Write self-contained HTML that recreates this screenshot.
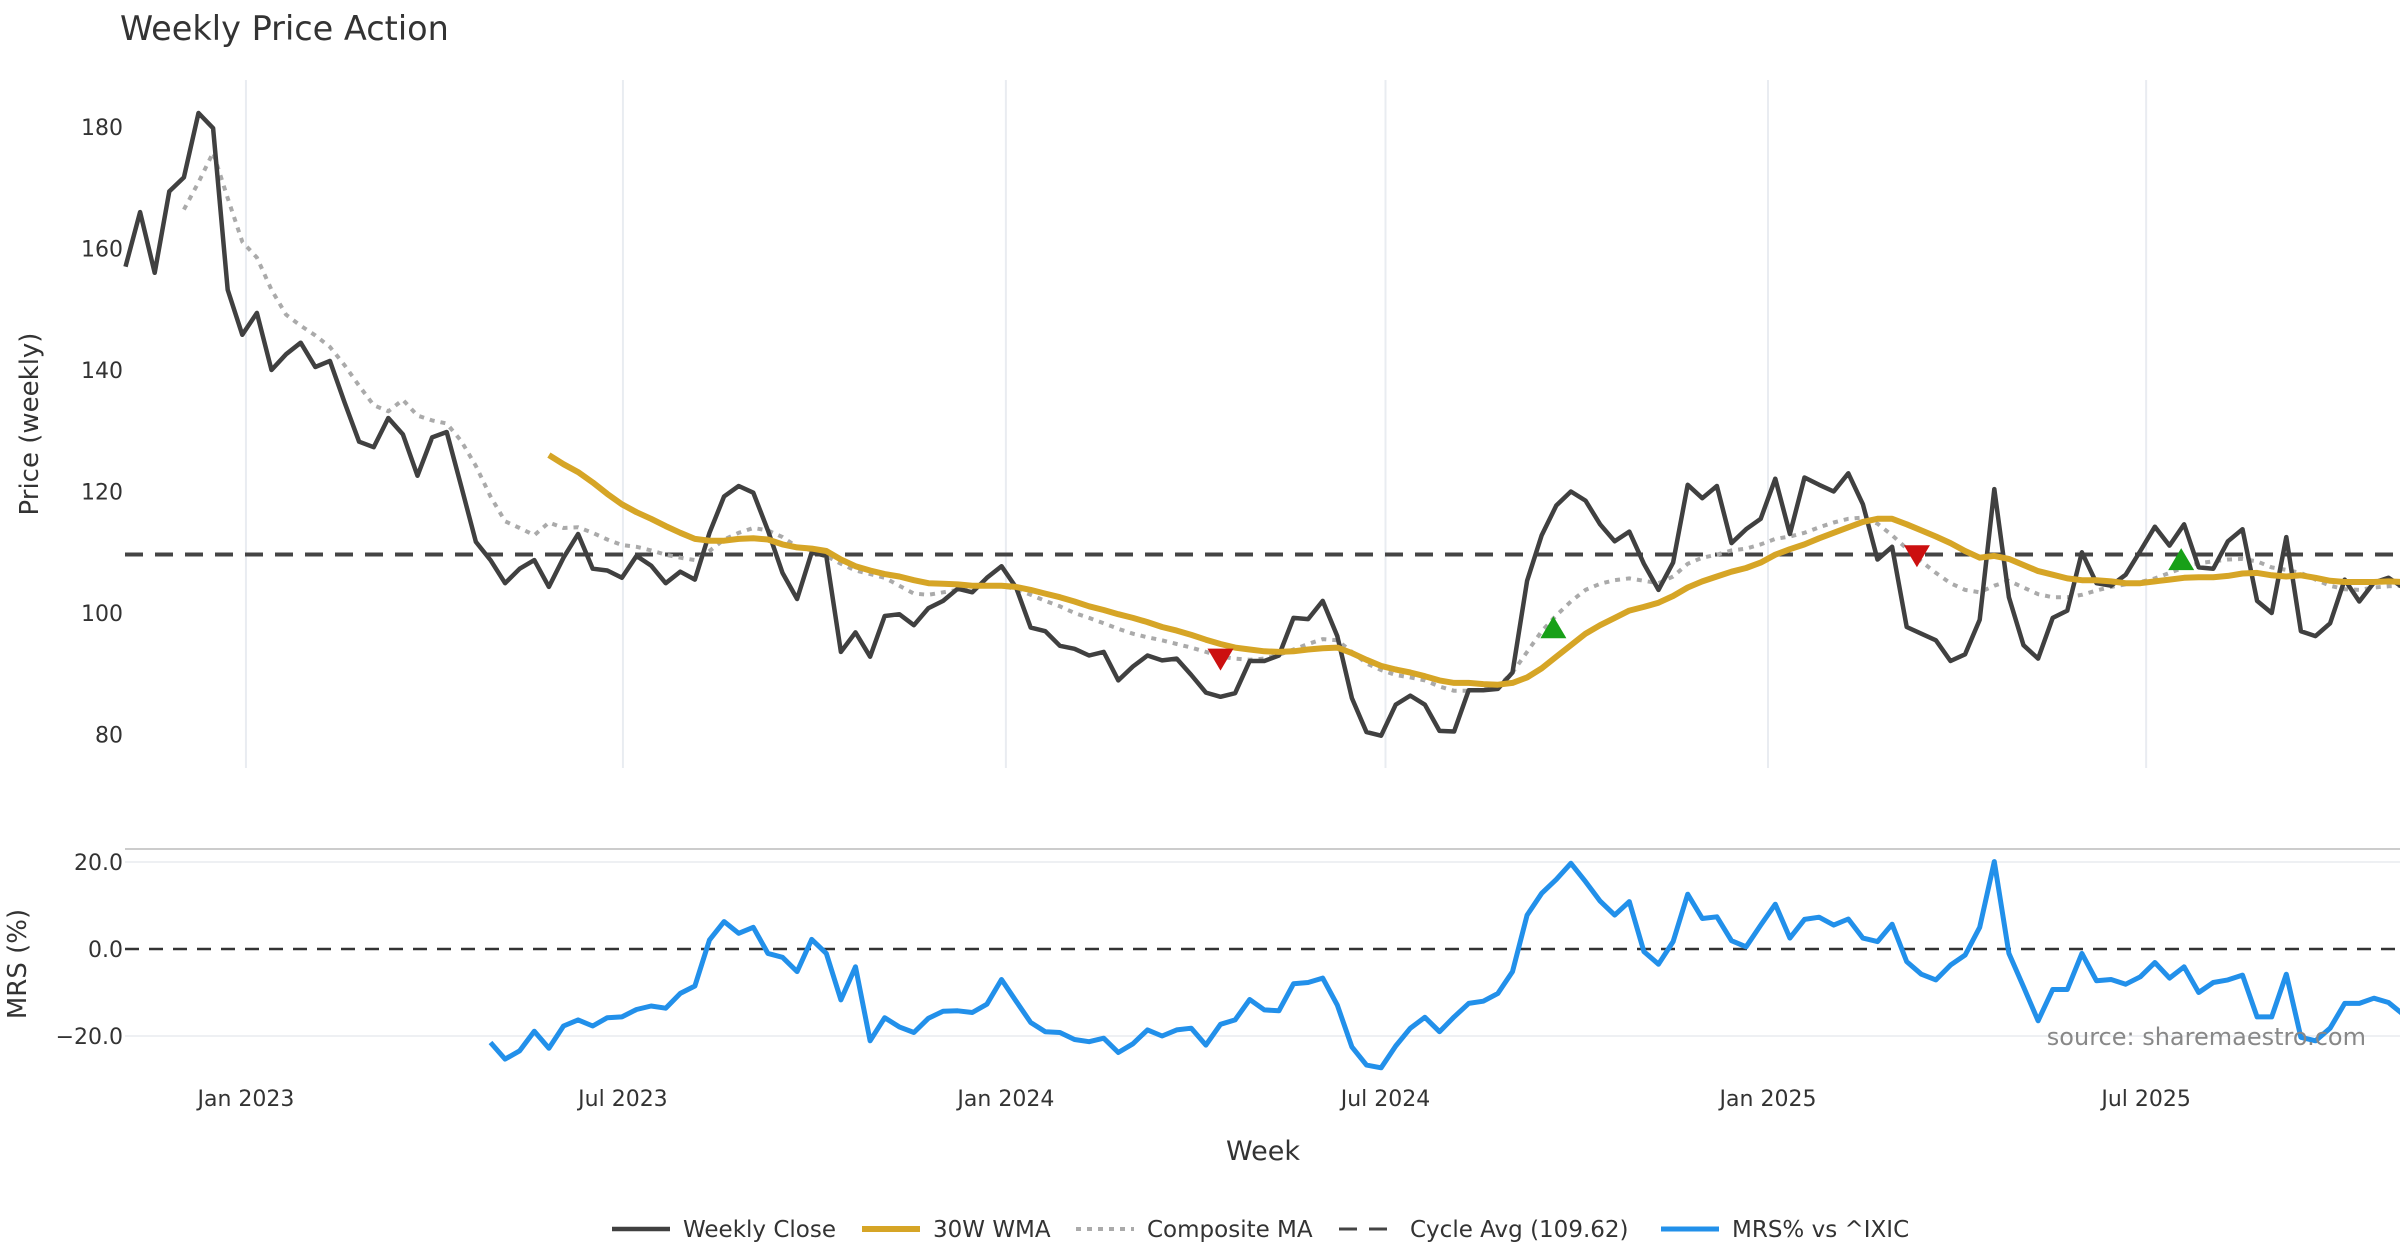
<!DOCTYPE html>
<html><head><meta charset="utf-8"><style>
html,body{margin:0;padding:0;background:#fff;}
svg{display:block;font-family:"DejaVu Sans","Liberation Sans",sans-serif;}
</style></head><body>
<svg id="chart" width="2400" height="1260" viewBox="0 0 2400 1260" xmlns="http://www.w3.org/2000/svg">
<text x="120" y="40" font-size="33.5" fill="#333">Weekly Price Action</text>
<g id="grid"></g>
<g id="price"></g>
<g id="mrs"></g>
<g id="axes"></g>
<text x="38" y="424" font-size="26" fill="#333" text-anchor="middle" transform="rotate(-90 38 424)">Price (weekly)</text>
<text x="26" y="964" font-size="26" fill="#333" text-anchor="middle" transform="rotate(-90 26 964)">MRS (%)</text>
<text x="1263" y="1160" font-size="27" fill="#333" text-anchor="middle">Week</text>
<text x="2366" y="1045" font-size="24" fill="#888" text-anchor="end">source: sharemaestro.com</text>
<g id="legend"></g>
</svg>
<script>
const closeVals=[157,166,156,169.4,171.7,182.3,179.8,153.2,145.8,149.4,140,142.6,144.5,140.5,141.5,134.7,128.2,127.3,132.1,129.4,122.6,128.9,129.8,120.8,111.7,108.7,104.9,107.3,108.7,104.3,109.1,113,107.3,107,105.8,109.4,107.8,104.9,106.8,105.5,113.2,119.2,120.9,119.8,113.6,106.6,102.3,110,109.4,93.6,96.8,92.8,99.5,99.8,98,100.8,102,104,103.4,105.8,107.7,104.2,97.6,97,94.6,94.1,93,93.6,88.9,91.2,93,92.2,92.5,89.8,86.9,86.2,86.8,92.1,92.1,93,99.2,99,102,96.2,86,80.4,79.8,84.9,86.4,84.9,80.6,80.5,87.3,87.3,87.5,90.2,105.3,112.8,117.7,120,118.5,114.6,111.8,113.4,108.1,103.8,108.3,121.1,118.9,120.9,111.5,113.8,115.5,122.1,113,122.3,121.1,120,123,117.9,108.8,110.9,97.7,96.6,95.5,92.1,93.2,98.9,120.4,102.6,94.7,92.5,99.2,100.4,110,104.9,104.5,106.3,110.2,114.2,111.1,114.6,107.5,107.3,111.8,113.8,102,100,112.5,97,96.2,98.3,105.5,101.9,105,105.8,104.2];
const wmaStart=29;
const wmaVals=[126,124.5,123.2,121.5,119.6,117.9,116.6,115.5,114.3,113.2,112.2,111.9,111.9,112.2,112.3,112.1,111.3,110.8,110.6,110.2,108.8,107.7,107,106.4,106,105.4,104.9,104.8,104.7,104.5,104.5,104.5,104.3,103.8,103.2,102.6,101.9,101.1,100.5,99.8,99.2,98.5,97.7,97.1,96.4,95.6,94.9,94.3,94,93.7,93.6,93.7,94,94.2,94.3,93.4,92.3,91.3,90.7,90.2,89.6,88.9,88.5,88.5,88.3,88.2,88.5,89.4,90.9,92.8,94.7,96.6,98,99.2,100.4,101,101.7,102.8,104.2,105.2,106,106.8,107.4,108.3,109.6,110.5,111.3,112.3,113.2,114.1,115,115.5,115.5,114.6,113.6,112.6,111.5,110.2,109.1,109.4,108.9,107.9,106.9,106.3,105.7,105.4,105.4,105.2,104.9,104.9,105.2,105.5,105.8,105.9,105.9,106.1,106.5,106.6,106.2,106,106.2,105.8,105.3,105.1,105.1,105.1,105.2,105.1];
const compStart=4;
const compVals=[166.4,170.9,175.8,168.3,161.1,158.5,153.2,149.1,147.3,145.7,143.8,140.8,137.4,134.2,133.2,135.1,132.5,131.7,131.2,128.3,124.2,119.2,115.1,114,112.8,114.9,114,114.1,113.2,112.1,111.2,110.9,110.3,109.6,109.1,108.7,110.2,112.1,113.2,114,113.6,112.5,110.9,110.3,109.4,108.1,107,106.4,105.8,104.5,103.2,103,103.4,103.8,104.2,104.4,104.4,104,103,102,101.1,100,99.2,98.3,97.4,96.6,96,95.5,94.9,94.3,93.6,92.8,92.5,92.3,92.5,93.1,94,94.9,95.7,95.5,93.6,91.7,90.6,89.8,89.4,88.9,87.9,87.2,87.2,87.4,87.9,90.2,93.6,97,99.6,101.9,103.8,104.8,105.4,105.7,105.3,104.9,106,108.1,109.1,109.6,110.3,110.6,111.3,112.2,112.6,113.2,114.1,114.9,115.5,115.7,114.7,112.8,110.6,108.5,106.6,104.9,103.8,103.4,104.5,105.3,104.2,103.1,102.6,102.6,103,103.7,104.3,104.7,105.1,105.7,106.6,107.5,108.2,108.5,108.8,108.9,108.5,107.5,107.1,106.6,105.5,104.5,103.9,103.8,104.2,104.4,104.5];
const mrsStart=25;
const mrsVals=[-21.5,-25.3,-23.4,-18.9,-22.8,-17.7,-16.3,-17.7,-15.8,-15.6,-13.9,-13.1,-13.6,-10.2,-8.5,2.1,6.3,3.6,5,-1,-1.9,-5.2,2.2,-1,-11.7,-4.1,-21.1,-15.8,-17.9,-19.2,-15.9,-14.3,-14.2,-14.6,-12.7,-7,-12,-16.9,-19,-19.2,-20.8,-21.3,-20.5,-23.8,-21.8,-18.6,-20,-18.6,-18.2,-22.1,-17.3,-16.3,-11.6,-14,-14.2,-8,-7.7,-6.7,-12.9,-22.5,-26.7,-27.3,-22.3,-18.2,-15.7,-19,-15.6,-12.5,-12,-10.2,-5.2,7.8,12.8,16,19.7,15.5,11,7.8,10.9,-0.6,-3.5,1.7,12.6,7,7.4,1.9,0.5,5.5,10.3,2.5,6.8,7.3,5.5,6.9,2.5,1.7,5.7,-2.9,-5.8,-7.1,-3.7,-1.4,5,20.1,-1,-8.7,-16.5,-9.3,-9.3,-1,-7.3,-7,-8.1,-6.4,-3.1,-6.7,-4.1,-10,-7.7,-7.1,-6,-15.6,-15.6,-5.8,-20.3,-21.1,-18.2,-12.5,-12.5,-11.3,-12.3,-15];
const cycleAvg=109.62;
const sellIdx=[75,122.7];
const sellVals=[92.5,109.5];
const buyIdx=[97.8,140.8];
const buyVals=[97.5,108.7];
const priceTicks=[80,100,120,140,160,180];
const mrsTicks=[-20,0,20];
const xTickIdx=[8.25,34.07,60.3,86.3,112.5,138.4];
const xTickLabels=["Jan 2023","Jul 2023","Jan 2024","Jul 2024","Jan 2025","Jul 2025"];

const NS="http://www.w3.org/2000/svg";
const X=i=>125.5+i*14.6;
const YP=v=>127+(180-v)*6.075;
const YM=v=>949-v*4.35;
function mk(tag,attrs,parent){const e=document.createElementNS(NS,tag);for(const k in attrs)e.setAttribute(k,attrs[k]);parent.appendChild(e);return e;}
const grid=document.getElementById('grid'),price=document.getElementById('price'),mrs=document.getElementById('mrs'),axes=document.getElementById('axes'),legend=document.getElementById('legend');

xTickIdx.forEach((t,k)=>{
  const l=mk('line',{x1:X(t),x2:X(t),y1:80,y2:768,stroke:'#e9ecf1','stroke-width':2},grid);
  
  
  const tx=mk('text',{x:X(t),y:1106,'font-size':22,fill:'#333','text-anchor':'middle'},axes);
  tx.textContent=xTickLabels[k];
  
  
});
priceTicks.forEach(v=>{
  const tx=mk('text',{x:123,y:YP(v)+8,'font-size':22,fill:'#333','text-anchor':'end'},axes);
  tx.textContent=v;
  
  
});
const sep=mk('line',{x1:125,x2:2400,y1:849,y2:849,stroke:'#ccc','stroke-width':2},grid);


mrsTicks.forEach(v=>{
  if(v!==0){const g=mk('line',{x1:125,x2:2400,y1:YM(v),y2:YM(v),stroke:'#eef0f3','stroke-width':2},grid);
  
  }
  const tx=mk('text',{x:123,y:YM(v)+8,'font-size':22,fill:'#333','text-anchor':'end'},axes);
  tx.textContent=(v<0?'\u2212':'')+Math.abs(v).toFixed(1);
  
  
});
function poly(vals,start,Y,attrs,parent){
  const pts=vals.map((v,i)=>X(start+i).toFixed(1)+','+Y(v).toFixed(1)).join(' ');
  return mk('polyline',Object.assign({points:pts,fill:'none','stroke-linejoin':'round'},attrs),parent);
}
const ca=mk('line',{x1:125,x2:2400,y1:YP(cycleAvg),y2:YP(cycleAvg),stroke:'#444','stroke-width':4,'stroke-dasharray':'18 12'},price);


const cm=poly(compVals,compStart,YP,{stroke:'#aaa','stroke-width':4,'stroke-dasharray':'5 6'},price);


const cl=poly(closeVals,0,YP,{stroke:'#404040','stroke-width':4.5},price);


const wm=poly(wmaVals,wmaStart,YP,{stroke:'#d6a526','stroke-width':6},price);


sellIdx.forEach((t,k)=>{const x=X(t),y=YP(sellVals[k]);
  const p=mk('polygon',{points:`${x-13},${y-10} ${x+13},${y-10} ${x},${y+12}`,fill:'#cc1010'},price);
  
  });
buyIdx.forEach((t,k)=>{const x=X(t),y=YP(buyVals[k]);
  const p=mk('polygon',{points:`${x-13},${y+10} ${x+13},${y+10} ${x},${y-12}`,fill:'#18a018'},price);
  
  });
const zl=mk('line',{x1:125,x2:2400,y1:YM(0),y2:YM(0),stroke:'#333','stroke-width':2.5,'stroke-dasharray':'14 10'},mrs);


const ml=poly(mrsVals,mrsStart,YM,{stroke:'#2290ea','stroke-width':5},mrs);



const legItems=[
 {x:612,t:'Weekly Close',s:{stroke:'#404040','stroke-width':4.5},n:'legend-weekly-close'},
 {x:862,t:'30W WMA',s:{stroke:'#d6a526','stroke-width':6},n:'legend-wma'},
 {x:1076,t:'Composite MA',s:{stroke:'#aaa','stroke-width':4,'stroke-dasharray':'5 6'},n:'legend-composite-ma'},
 {x:1339,t:'Cycle Avg (109.62)',s:{stroke:'#444','stroke-width':3,'stroke-dasharray':'18 12'},n:'legend-cycle-avg'},
 {x:1661,t:'MRS% vs ^IXIC',s:{stroke:'#2290ea','stroke-width':5},n:'legend-mrs'}];
legItems.forEach(it=>{
  const g=mk('g',{},legend);
  
  
  mk('line',Object.assign({x1:it.x,x2:it.x+58,y1:1229,y2:1229},it.s),g);
  const tx=mk('text',{x:it.x+71,y:1237,'font-size':23,fill:'#333'},g);
  tx.textContent=it.t;
});
</script>
</body></html>
